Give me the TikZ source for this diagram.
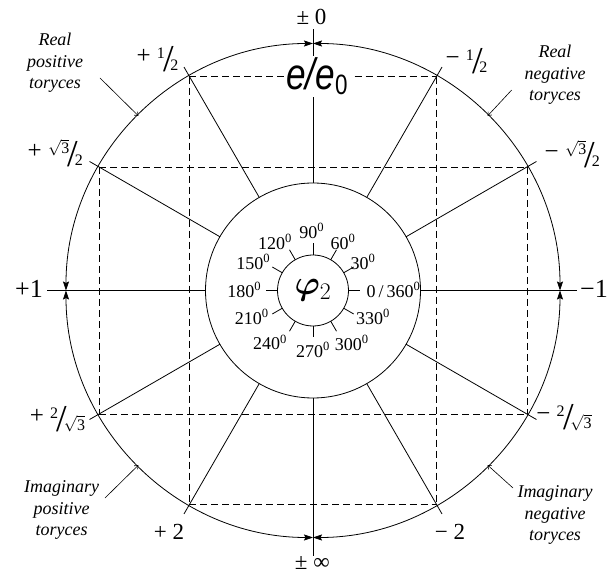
\RequirePackage{fix-cm}
\documentclass[tikz,border=0pt]{standalone}
\usepackage{amsmath,amssymb,bm}
\usepackage{fontspec}
\setmainfont{Liberation Serif}
\newfontfamily\helv{Liberation Sans}
\usetikzlibrary{positioning,arrows.meta}

\newcommand{\sfr}[2]{%
  \raisebox{5pt}{\fontsize{16}{16}\selectfont #1}\kern-1.5pt%
  \raisebox{-8pt}{\fontsize{38}{38}\selectfont /}\kern-3.5pt%
  \raisebox{-7pt}{\fontsize{16}{16}\selectfont #2}}
\newcommand{\dg}[1]{#1\textsuperscript{0}}
\newcommand{\rt}{$\sqrt{\mbox{3}}$}

\begin{document}
\begin{tikzpicture}[
x=1pt, y=1pt,
ring/.style={draw, circle, inner sep=0pt, outer sep=0pt, line width=0.8pt},
spoke/.style={line width=0.8pt},
guide/.style={line width=0.7pt, dash pattern=on 7pt off 4pt},
arr/.style={{Stealth[length=9pt,width=6pt,inset=1.5pt]}-{Stealth[length=9pt,width=6pt,inset=1.5pt]}, line width=0.8pt},
lead/.style={-{Straight Barb[length=3pt,width=5pt]}, line width=0.6pt},
num/.style={font=\fontsize{23}{23}\selectfont, inner sep=0pt, anchor=base},
frl/.style={font=\fontsize{25}{25}\selectfont, inner sep=0pt, anchor=base},
deg/.style={font=\fontsize{18}{18}\selectfont, inner sep=0pt},
note/.style={align=center, font=\fontsize{18}{21.5}\selectfont\itshape}
]
\useasboundingbox (-313,-289.5) rectangle (303,290.5);

% circles
\node[ring, minimum size=215pt] (mid) at (0,0) {};
\node[ring, minimum size=71pt, font=\fontsize{34}{34}\selectfont] (hub) at (0,0) {$\bm{\varphi}_2$};
\node[circle, inner sep=0pt, outer sep=0pt, minimum size=494pt] (rim) at (0,0) {};

% outer ring in four quarters
\draw[arr] (rim.0) arc[start angle=0, end angle=90, radius=247];
\draw[arr] (rim.90) arc[start angle=90, end angle=180, radius=247];
\draw[arr] (rim.180) arc[start angle=180, end angle=270, radius=247];
\draw[arr] (rim.270) arc[start angle=270, end angle=360, radius=247];

\foreach \a in {30,60,120,150,210,240,300,330}
  \coordinate (p\a) at (\a:247);

% dashed guides
\draw[guide] (p120) -- (p60) (p150) -- (p30) (p210) -- (p330) (p240) -- (p300);
\draw[guide] (p120) -- (p240) (p60) -- (p300) (p150) -- (p210) (p30) -- (p330);

% spokes
\foreach \a in {30,60,120,150,210,240,300,330}{
  \coordinate (s\a) at (\a:258);
  \draw[spoke] (mid.\a) -- (s\a);
}
\foreach \a/\l in {0/264, 90/261, 180/266, 270/266}{
  \coordinate (s\a) at (\a:\l);
  \draw[spoke] (mid.\a) -- (s\a);
}

% phase scale
\foreach \a in {0,30,...,330}{
  \coordinate (t\a) at (\a:47);
  \draw[spoke] (hub.\a) -- (t\a);
}
\foreach \a/\x/\y in {30/50/28.8, 60/30/48.8, 90/-1.3/59.7, 120/-38/48.8, 150/-59.7/28.8,
  210/-61.3/-26.2, 240/-43/-52, 270/0/-59.5, 300/38.7/-52.5, 330/60/-26.2}
  \node[deg] (d\a) at (\x,\y) {\dg{\a}};
\node[deg, anchor=west] (d0) at (53.5,0.5) {0\,/\,\dg{360}};
\node[deg, anchor=east] (d180) at (-51.5,0.5) {\dg{180}};

\node[fill=white, inner sep=2pt, anchor=base] (ratio) at (4,200.5)
  {\scalebox{0.8}[1]{\fontsize{44}{44}\helv\itshape e/e\raisebox{-5pt}{\fontsize{28}{28}\selectfont\upshape 0}}};

% values on the ring
\node[num] (vtop) at (-1.5,265.5) {± 0};
\node[num] (vbot) at (-0.7,-279.5) {± ∞};
\node[num, font=\fontsize{26}{26}\selectfont] (vleft) at (-284,-7.5) {+1};
\node[num, font=\fontsize{26}{26}\selectfont] (vright) at (281,-7.5) {−1};
\node[num] (vpos2) at (-144,-249.5) {+ 2};
\node[num] (vneg2) at (137,-249.5) {− 2};
\node[frl] (vph) at (-155.5,226.5) {+ \sfr{1}{2}};
\node[frl] (vnh) at (153.5,224.5) {− \sfr{1}{2}};
\node[frl] (vpr) at (-257.7,131.5) {+ \sfr{\rt}{2}};
\node[frl] (vnr) at (259.3,130.5) {− \sfr{\rt}{2}};
\node[frl] (vpi) at (-255.5,-132.8) {+ \sfr{2}{\rt}};
\node[frl] (vni) at (251,-131.2) {− \sfr{2}{\rt}};

% toryces notes
\node[note] (realpos) at (-258,227.5) {Real\\positive\\toryces};
\node[note] (realneg) at (242,215.5) {Real\\negative\\toryces};
\node[note] (imgpos) at (-251.3,-219.5) {Imaginary\\positive\\toryces};
\node[note] (imgneg) at (242,-224.5) {Imaginary\\negative\\toryces};
\coordinate (rpo) at (-213,212.5);
\coordinate (rne) at (198.7,200.5);
\coordinate (ipo) at (-208,-207.5);
\coordinate (ine) at (200,-197.5);
\draw[lead] (rpo) -- (rim.135);
\draw[lead] (rne) -- (rim.45);
\draw[lead] (ipo) -- (rim.225);
\draw[lead] (ine) -- (rim.315);
\end{tikzpicture}
\end{document}
